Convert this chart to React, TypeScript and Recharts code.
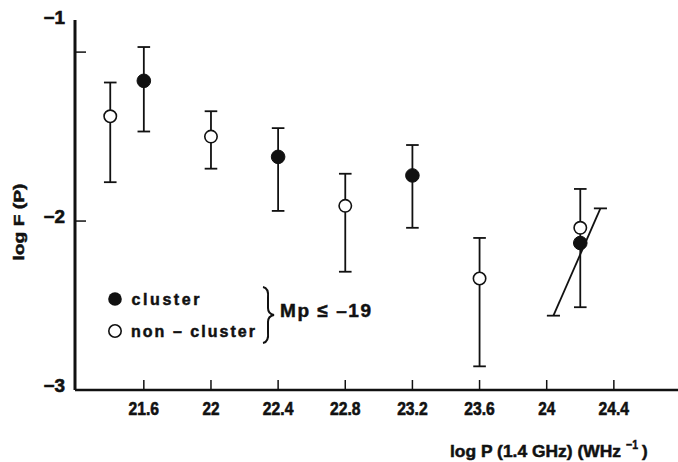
import React from 'react';
import { ScatterChart, Scatter, XAxis, YAxis, ErrorBar } from 'recharts';

const xTicks = [21.6, 22, 22.4, 22.8, 23.2, 23.6, 24, 24.4];
const yTicks = [-3, -2, -1];

// cluster galaxies (filled circles)
const clusterLogP = [21.6, 22.4, 23.2, 24.2];
const clusterLogF = [-1.17, -1.62, -1.73, -2.13];
const clusterHigh = [-0.97, -1.45, -1.55, -2.13];
const clusterLow = [-1.47, -1.94, -2.04, -2.13];

// non-cluster galaxies (open circles)
const nonClusterLogP = [21.4, 22.0, 22.8, 23.6, 24.2];
const nonClusterLogF = [-1.38, -1.5, -1.91, -2.34, -2.04];
const nonClusterHigh = [-1.18, -1.35, -1.72, -2.1, -1.81];
const nonClusterLow = [-1.77, -1.69, -2.3, -2.86, -2.51];

// slanted segment near the bright end
const slopeLogP = [24.04, 24.32];
const slopeLogF = [-2.56, -1.925];
const slopeCap = 0.039;

const toRows = (xs: number[], ys: number[], hi: number[], lo: number[]) =>
  xs.map((x, i) => ({ x, y: ys[i], err: [ys[i] - lo[i], hi[i] - ys[i]] }));

const clusterData = toRows(clusterLogP, clusterLogF, clusterHigh, clusterLow);
const nonClusterData = toRows(nonClusterLogP, nonClusterLogF, nonClusterHigh, nonClusterLow);
const slopeData = slopeLogP.map((x, i) => ({ x, y: slopeLogF[i], cap: [slopeCap, slopeCap] }));

const MARGIN_TOP = 20;
const INK = '#111';
const tickFont = {
  fontFamily: 'Liberation Sans, Arial, sans-serif',
  fontWeight: 700,
  fontSize: 18,
  fill: INK,
  stroke: INK,
  strokeWidth: 0.6,
};
const textFont = { fontFamily: 'Liberation Sans, Arial, sans-serif', fontWeight: 700, fill: INK };
const heavyFont = { ...textFont, stroke: INK, strokeWidth: 0.5 };

const charW = (s: string) =>
  s.split('').reduce((w, c) => w + (c === '.' ? 5 : c === '\u2212' ? 11 : 8.5), 0);

const fmt = (v: number) => (v < 0 ? '\u2212' + Math.abs(v) : String(v));

const BottomTick = (props: any) => {
  const { x, y, payload } = props;
  const label = fmt(payload.value);
  return (
    <g>
      <line x1={x} y1={y} x2={x} y2={y - 10} stroke={INK} strokeWidth={1.5} />
      <text x={x} y={y + 25} textAnchor="middle" textLength={charW(label)} lengthAdjust="spacingAndGlyphs" {...tickFont}>
        {label}
      </text>
    </g>
  );
};

const TopTick = (props: any) => {
  const { x, y } = props;
  return <line x1={x} y1={y} x2={x} y2={y + 12} stroke={INK} strokeWidth={1.5} />;
};

const LeftTick = (props: any) => {
  const { x, y, payload } = props;
  const label = fmt(payload.value);
  // the "-1" label is printed at the top corner of the frame in the original
  const ty = payload.value === -1 ? MARGIN_TOP + 3.5 : y + 1.5;
  return (
    <g>
      {payload.value !== -3 && <line x1={x} y1={y} x2={x + 11} y2={y} stroke={INK} strokeWidth={1.5} />}
      <text x={x - 10} y={ty} textAnchor="end" textLength={charW(label) + 2} lengthAdjust="spacingAndGlyphs" {...tickFont}>
        {label}
      </text>
    </g>
  );
};

const RightTick = (props: any) => {
  const { x, y } = props;
  return <line x1={x} y1={y} x2={x - 10} y2={y} stroke={INK} strokeWidth={1.5} />;
};

const FilledDot = (props: any) => <circle cx={props.cx} cy={props.cy} r={6.8} fill={INK} stroke={INK} strokeWidth={1} />;
const OpenDot = (props: any) => <circle cx={props.cx} cy={props.cy} r={6.2} fill="#fff" stroke={INK} strokeWidth={1.6} />;
const NoDot = () => <g />;

export default function App() {
  return (
    <div style={{ position: 'absolute', left: 0, top: 0, width: 678, height: 462, overflow: 'hidden', background: '#fff' }}>
      <ScatterChart width={684} height={462} margin={{ top: MARGIN_TOP, right: 3, bottom: 0, left: 0 }}>
        <XAxis
          type="number"
          dataKey="x"
          domain={[21.19, 24.8]}
          ticks={xTicks}
          allowDataOverflow
          height={72}
          tickSize={0}
          tickMargin={0}
          tickLine={false}
          axisLine={{ stroke: INK, strokeWidth: 2.6 }}
          tick={<BottomTick />}
        />
        <XAxis
          xAxisId="top"
          orientation="top"
          type="number"
          domain={[21.19, 24.8]}
          ticks={xTicks}
          allowDataOverflow
          height={0}
          tickSize={0}
          tickMargin={0}
          tickLine={false}
          axisLine={{ stroke: INK, strokeWidth: 2.2 }}
          tick={<TopTick />}
        />
        <YAxis
          type="number"
          dataKey="y"
          domain={[-3, -0.81]}
          ticks={yTicks}
          allowDataOverflow
          width={75}
          tickSize={0}
          tickMargin={0}
          tickLine={false}
          axisLine={{ stroke: INK, strokeWidth: 3 }}
          tick={<LeftTick />}
        />
        <YAxis
          yAxisId="right"
          orientation="right"
          type="number"
          domain={[-3, -0.81]}
          ticks={[-2, -1]}
          allowDataOverflow
          width={0}
          tickSize={0}
          tickMargin={0}
          tickLine={false}
          axisLine={{ stroke: INK, strokeWidth: 2.5 }}
          tick={<RightTick />}
        />
        <Scatter data={nonClusterData} dataKey="y" shape={<OpenDot />} isAnimationActive={false}>
          <ErrorBar dataKey="err" direction="y" width={6.3} stroke={INK} strokeWidth={1.8} isAnimationActive={false} />
        </Scatter>
        <Scatter data={clusterData} dataKey="y" shape={<FilledDot />} isAnimationActive={false}>
          <ErrorBar dataKey="err" direction="y" width={6.3} stroke={INK} strokeWidth={1.8} isAnimationActive={false} />
        </Scatter>
        <Scatter
          data={slopeData}
          dataKey="y"
          shape={<NoDot />}
          line={{ stroke: INK, strokeWidth: 1.8 }}
          isAnimationActive={false}
        >
          <ErrorBar dataKey="cap" direction="x" width={0} stroke={INK} strokeWidth={1.8} isAnimationActive={false} />
        </Scatter>

        {/* legend */}
        <circle cx={115} cy={299} r={6.8} fill={INK} />
        <circle cx={115} cy={331} r={6.2} fill="#fff" stroke={INK} strokeWidth={1.6} />
        <text x={131.5} y={305} fontSize={16} textLength={68} {...heavyFont}>cluster</text>
        <text x={131} y={337} fontSize={16} textLength={124} {...heavyFont}>non – cluster</text>
        <path
          d="M263 287 Q269 288 268 298 L268 308 Q268 314 274 315 Q268 316 268 322 L268 332 Q269 342 263 343"
          fill="none"
          stroke={INK}
          strokeWidth={2}
        />
        <text x={280} y={317} fontSize={19} textLength={91} {...heavyFont}>Mp ≤ –19</text>

        {/* axis titles */}
        <text
          transform="translate(24 222) rotate(-90)"
          textAnchor="middle"
          fontSize={15}
          textLength={77}
          lengthAdjust="spacingAndGlyphs"
          {...heavyFont}
        >
          log F (P)
        </text>
        <text x={450} y={457} fontSize={17} textLength={171} lengthAdjust="spacingAndGlyphs" {...heavyFont}>
          log P (1.4 GHz) (WHz
        </text>
        <text x={626} y={449} fontSize={13} textLength={12} lengthAdjust="spacingAndGlyphs" {...heavyFont}>−1</text>
        <text x={642} y={457} fontSize={17} {...heavyFont}>)</text>
      </ScatterChart>
    </div>
  );
}
